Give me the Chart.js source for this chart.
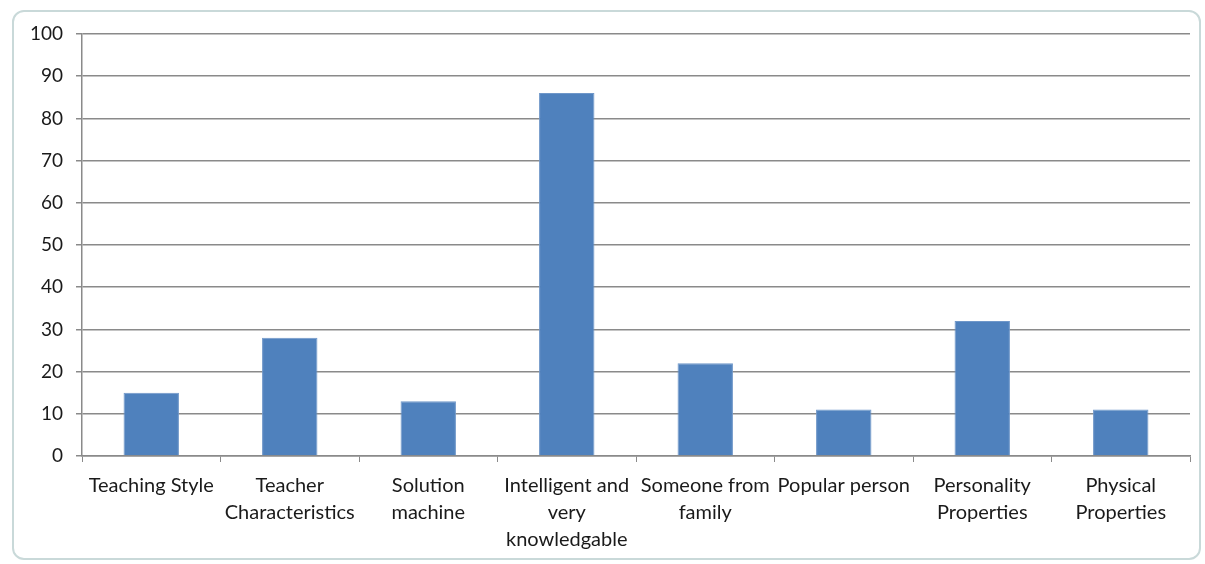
<!DOCTYPE html>
<html>
<head>
<meta charset="utf-8">
<script src="https://cdn.jsdelivr.net/npm/chart.js@4"></script>
<style>
  html, body { margin: 0; padding: 0; background: #fff; }
  #wrap { position: relative; width: 1205px; height: 564px; }
  #frame {
    position: absolute; left: 12px; top: 10px; width: 1189px; height: 550px;
    border: 2px solid #c9d9d9; border-radius: 12px; box-sizing: border-box;
  }
  canvas { position: absolute; left: 0; top: 0; }
</style>
</head>
<body>
<div id="wrap">
  <div id="frame"></div>
  <canvas id="chart" width="1205" height="564"></canvas>
</div>
<script>
// categories (split into lines the way they wrap under each bar)
const categories = [
  ["Teaching Style"],
  ["Teacher", "Characteristics"],
  ["Solution", "machine"],
  ["Intelligent and", "very", "knowledgable"],
  ["Someone from", "family"],
  ["Popular person"],
  ["Personality", "Properties"],
  ["Physical", "Properties"]
];
const values = [15, 28, 13, 86, 22, 11, 32, 11];
const yTicks = [0, 10, 20, 30, 40, 50, 60, 70, 80, 90, 100];

const gridColor = "#8a8a8a";
const textColor = "#1a1a1a";
const xFont = { family: "Lato, 'Liberation Sans', sans-serif", size: 20, lineHeight: 1.35 };
const yFont = { family: "Lato, 'Liberation Sans', sans-serif", size: 19 };

const ctx = document.getElementById("chart").getContext("2d");
new Chart(ctx, {
  type: "bar",
  data: {
    labels: categories,
    datasets: [{
      data: values,
      backgroundColor: "#4f81bd",
      borderColor: "#6f97c9",
      borderWidth: 1,
      barPercentage: 0.4,
      categoryPercentage: 1
    }]
  },
  options: {
    responsive: false,
    animation: false,
    layout: { padding: { top: 34, right: 15, left: 0, bottom: 0 } },
    plugins: { legend: { display: false }, tooltip: { enabled: false } },
    scales: {
      x: {
        offset: true,
        grid: { offset: true, drawOnChartArea: false, color: gridColor, tickLength: 6 },
        border: { color: gridColor, width: 1.5 },
        ticks: { color: textColor, font: xFont, padding: 10, maxRotation: 0, autoSkip: false },
        afterFit: s => { s.height = 108; }
      },
      y: {
        min: 0,
        max: 100,
        afterBuildTicks: s => { s.ticks = yTicks.map(v => ({ value: v })); },
        grid: { color: gridColor, lineWidth: 1.5, tickLength: 6 },
        border: { color: gridColor, width: 1.5 },
        ticks: { color: textColor, font: yFont, padding: 13 },
        afterFit: s => { s.width = 82; }
      }
    }
  }
});
</script>
</body>
</html>
